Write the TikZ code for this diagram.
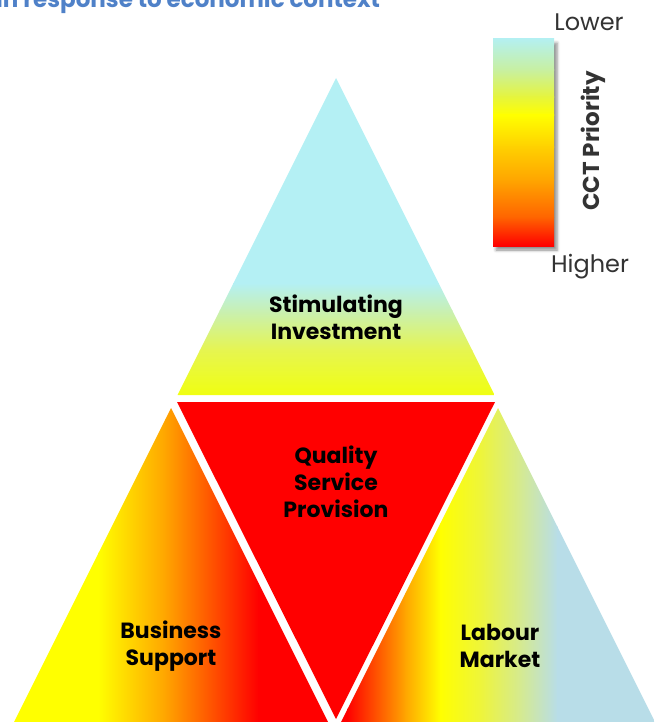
\documentclass[tikz,border=0pt]{standalone}
\usepackage{fontspec}
\setmainfont{Poppins}
\usetikzlibrary{shadows.blur}
\definecolor{cyanA}{HTML}{B4F0F4}
\definecolor{greenA}{HTML}{C8F0B4}
\definecolor{ygA}{HTML}{E6F550}
\definecolor{yelA}{HTML}{F0FF10}
\definecolor{yel}{HTML}{FFFF00}
\definecolor{orA}{HTML}{FFA500}
\definecolor{redA}{HTML}{FF0000}
\definecolor{ygB}{HTML}{EEF53A}
\definecolor{gB}{HTML}{D5EA90}
\definecolor{blueB}{HTML}{B8DDE8}
\definecolor{barA}{HTML}{B4F0F0}
\definecolor{barB}{HTML}{C8F0A0}
\definecolor{barC}{HTML}{E6F53C}
\definecolor{barD}{HTML}{FFD000}
\definecolor{barE}{HTML}{FF6400}
\definecolor{titleblue}{HTML}{4F81C8}
\definecolor{txtgray}{HTML}{333333}
\tikzset{
  lbl/.style={align=center, text=black, font=\fontsize{22}{27}\selectfont\bfseries, inner sep=0pt},
  legtxt/.style={text=txtgray, font=\fontsize{24}{28}\selectfont, inner sep=0pt},
}
\begin{document}
\begin{tikzpicture}[x=1pt,y=-1pt]
\useasboundingbox (0,0) rectangle (654,722);
\begin{scope}
\clip (0,0) rectangle (654,722);
% title (cut at top)
\node[anchor=base west, inner sep=0pt, text=titleblue, font=\fontsize{23}{28}\selectfont\bfseries] (title) at (-4,8) {in response to economic context};

% top triangle
\begin{scope}
\clip (336,78) -- (494.5,395) -- (177.5,395) -- cycle;
\fill[cyanA] (170,70) rectangle (500,283.5);
\shade[top color=cyanA, bottom color=greenA] (170,283) rectangle (500,310.5);
\shade[top color=greenA, bottom color=ygA] (170,310) rectangle (500,350.5);
\shade[top color=ygA, bottom color=yelA] (170,350) rectangle (500,396);
\end{scope}

% inverted triangle
\fill[redA] (177,402) -- (495,402) -- (336,719) -- cycle;

% left triangle
\begin{scope}
\clip (171,408) -- (329.5,725) -- (12.5,725) -- cycle;
\fill[yel] (0,400) rectangle (98.5,730);
\shade[left color=yel, right color=orA] (98,400) rectangle (165.5,730);
\shade[left color=orA, right color=redA] (165,400) rectangle (258.5,730);
\fill[redA] (258,400) rectangle (340,730);
\end{scope}

% right triangle
\begin{scope}
\clip (498,408) -- (656.5,725) -- (339.5,725) -- cycle;
\fill[redA] (330,400) rectangle (347.5,730);
\shade[left color=redA, right color=orA] (347,400) rectangle (405.5,730);
\shade[left color=orA, right color=yel] (405,400) rectangle (440.5,730);
\shade[left color=yel, right color=ygB] (440,400) rectangle (480.5,730);
\shade[left color=ygB, right color=gB] (480,400) rectangle (520.5,730);
\shade[left color=gB, right color=blueB] (520,400) rectangle (557.5,730);
\fill[blueB] (557,400) rectangle (660,730);
\end{scope}

% legend bar
\path[blur shadow={shadow xshift=3pt, shadow yshift=-4pt, shadow blur radius=3pt, shadow opacity=45}, fill=white] (493,39) rectangle (554,246);
\shade[top color=barA, bottom color=barB] (493,39) rectangle (554,70.5);
\shade[top color=barB, bottom color=barC] (493,70) rectangle (554,97.5);
\shade[top color=barC, bottom color=yel] (493,97) rectangle (554,115.5);
\shade[top color=yel, bottom color=barD] (493,115) rectangle (554,147.5);
\shade[top color=barD, bottom color=orA] (493,147) rectangle (554,180.5);
\shade[top color=orA, bottom color=barE] (493,180) rectangle (554,217.5);
\shade[top color=barE, bottom color=redA] (493,217) rectangle (554,246);

\node[legtxt] (lower) at (589,22) {Lower};
\node[legtxt] (higher) at (590,267) {Higher};
\node[rotate=90, inner sep=0pt, text=txtgray, font=\fontsize{23}{26}\selectfont\bfseries] (cct) at (593,141) {CCT Priority};

% labels
\node[lbl] (stim) at (336,317) {Stimulating\\Investment};
\node[lbl] (qual) at (336,482) {Quality\\Service\\Provision};
\node[lbl] (bus) at (171,646) {Business\\Support};
\node[lbl] (lab) at (500,646) {Labour\\Market};
\end{scope}
\end{tikzpicture}
\end{document}
